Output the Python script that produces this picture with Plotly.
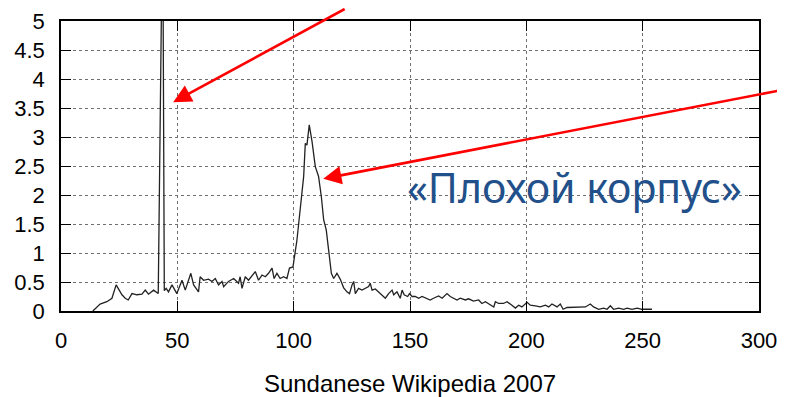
import plotly.graph_objects as go

# Data
x_vals = [13.7, 16.8, 19.7, 21.9, 23.7, 26.2, 27.6, 28.9, 30.5, 32.6, 34.8, 36.2, 37.6, 39.8, 41.8,
          43.7, 44.4, 45.2, 46.2, 47.7, 49.8, 52.0, 53.4, 55.8, 57.0, 59.1, 59.8, 61.3, 63.4, 64.9,
          66.3, 67.7, 69.2, 69.9, 72.0, 74.2, 76.3, 77.0, 77.8, 79.2, 80.6, 83.5, 84.9, 86.4, 87.8,
          89.2, 90.7, 91.6, 92.8, 94.2, 95.7, 97.1, 98.2, 99.7, 101.4, 102.8, 104.3, 105.0, 105.7,
          106.7, 107.9, 109.3, 110.7, 111.9, 112.9, 114.0, 115.1, 116.2, 117.2, 118.6, 120.0, 121.5,
          122.9, 124.0, 125.1, 125.8, 126.5, 127.9, 129.4, 130.8, 132.2, 132.9, 133.7, 135.1, 136.5,
          138.0, 139.4, 140.8, 142.3, 143.0, 144.4, 145.8, 146.6, 147.5, 149.0, 149.8, 150.9, 152.3,
          153.7, 155.2, 157.3, 158.7, 160.1, 162.3, 163.8, 165.9, 167.3, 168.7, 170.2, 171.6, 173.8,
          175.2, 177.3, 179.5, 180.9, 182.4, 183.8, 186.0, 186.7, 188.1, 190.2, 191.7, 193.8, 195.3,
          196.7, 198.1, 200.3, 201.7, 203.9, 206.0, 208.2, 209.6, 211.0, 213.2, 214.6, 215.8, 217.5,
          220.3, 223.2, 225.4, 227.5, 228.9, 231.1, 233.2, 234.7, 236.1, 237.5, 239.7, 241.8, 243.3,
          245.4, 247.6, 249.7, 251.1, 254.0]
y_vals = [0.00, 0.12, 0.16, 0.22, 0.45, 0.28, 0.22, 0.19, 0.30, 0.28, 0.29, 0.36, 0.29, 0.36, 0.30,
          7.10, 0.35, 0.39, 0.33, 0.45, 0.30, 0.53, 0.36, 0.65, 0.45, 0.33, 0.59, 0.53, 0.55, 0.51,
          0.56, 0.45, 0.51, 0.42, 0.51, 0.56, 0.48, 0.59, 0.39, 0.59, 0.53, 0.68, 0.53, 0.62, 0.59,
          0.65, 0.74, 0.56, 0.65, 0.56, 0.59, 0.56, 0.74, 0.76, 1.22, 1.74, 2.32, 2.89, 2.86,
          3.21, 2.92, 2.49, 2.32, 1.97, 1.57, 1.40, 0.99, 0.65, 0.56, 0.65, 0.55, 0.40,
          0.33, 0.30, 0.45, 0.51, 0.30, 0.39, 0.36, 0.39, 0.42, 0.48, 0.36, 0.38, 0.33,
          0.28, 0.22, 0.30, 0.36, 0.28, 0.33, 0.22, 0.36, 0.28, 0.25, 0.30, 0.25, 0.25,
          0.22, 0.25, 0.22, 0.19, 0.22, 0.26, 0.22, 0.30, 0.25, 0.22, 0.19, 0.22, 0.19,
          0.21, 0.17, 0.19, 0.13, 0.16, 0.13, 0.07, 0.16, 0.13, 0.13, 0.16, 0.10, 0.05,
          0.10, 0.07, 0.15, 0.10, 0.09, 0.07, 0.10, 0.07, 0.12, 0.07, 0.12, 0.03, 0.06,
          0.06, 0.06, 0.07, 0.12, 0.07, 0.03, 0.05, 0.03, 0.09, 0.03, 0.05, 0.03, 0.05,
          0.03, 0.05, 0.03, 0.03, 0.03]

x_ticks = [0, 50, 100, 150, 200, 250, 300]
y_ticks = [0, 0.5, 1, 1.5, 2, 2.5, 3, 3.5, 4, 4.5, 5]
y_tick_labels = ["0", "0.5", "1", "1.5", "2", "2.5", "3", "3.5", "4", "4.5", "5"]
x_title = "Sundanese Wikipedia 2007"
label_text = "«Плохой корпус»"

# arrow tips (data coords)
arrow_tips_x = [48.2, 112.7]
arrow_tips_y = [3.60, 2.28]

fig = go.Figure()
fig.add_trace(go.Scatter(x=x_vals, y=y_vals, mode="lines",
                         line=dict(color="#222222", width=1.3), showlegend=False))

axis_common = dict(
    showline=True, linecolor="black", linewidth=1.5, mirror="allticks",
    ticks="inside", ticklen=10, tickwidth=1.3, tickcolor="black",
    showgrid=True, gridcolor="#6f6f6f", gridwidth=1, griddash="dot",
    zeroline=False,
    tickfont=dict(family="Liberation Sans, Arial", size=22, color="black"),
)

fig.update_xaxes(range=[0, 300], tickvals=x_ticks, ticklabelstandoff=9, **axis_common,
                 title=dict(text=x_title, standoff=26,
                            font=dict(family="Liberation Sans, Arial", size=24, color="black")))
fig.update_yaxes(range=[0, 5], tickvals=y_ticks, ticktext=y_tick_labels,
                 ticklabelstandoff=10, **axis_common)

# red arrows (tails end at the edge of the figure)
fig.add_annotation(x=arrow_tips_x[0], y=arrow_tips_y[0], xref="x", yref="y",
                   ax=173, ay=-94, axref="pixel", ayref="pixel", text="",
                   showarrow=True, arrowhead=2, arrowsize=1.4, arrowwidth=2.6,
                   arrowcolor="#ff0000", standoff=0)
fig.add_annotation(x=arrow_tips_x[1], y=arrow_tips_y[1], xref="x", yref="y",
                   ax=460, ay=-89, axref="pixel", ayref="pixel", text="",
                   showarrow=True, arrowhead=2, arrowsize=1.4, arrowwidth=2.6,
                   arrowcolor="#ff0000", standoff=0)

# page has an 8px body margin: figure occupies (8..785, 8..397)
W, H = 777, 389
L, R, T, B = 53, 26, 13, 86
pw = W - L - R
ph = H - T - B
lab_px, lab_py = 574 - 8, 187 - 8
fig.add_annotation(x=(lab_px - L) / pw, y=(H - B - lab_py) / ph, xref="paper", yref="paper",
                   xanchor="center", yanchor="middle",
                   text=label_text, showarrow=False,
                   font=dict(family="Noto Sans", size=41, color="#22508a"))

fig.update_layout(
    width=W, height=H,
    margin=dict(l=L, r=R, t=T, b=B, autoexpand=False),
    paper_bgcolor="white", plot_bgcolor="white",
)

fig.write_html("out.html")
